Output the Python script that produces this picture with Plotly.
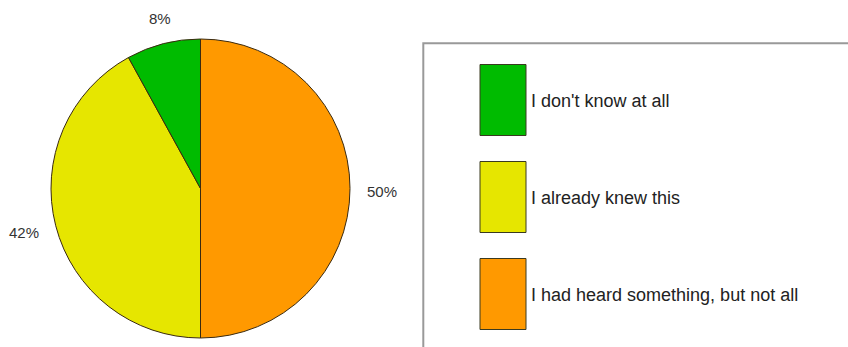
import math
import plotly.graph_objects as go

categories = ["I don't know at all", "I already knew this", "I had heard something, but not all"]
values = [8, 42, 50]
colors = ["#00BB00", "#E6E600", "#FF9900"]

W, H = 848, 347


def px(x):
    return x / W


def py(y):
    return 1 - y / H


# pie geometry (pixels)
CX, CY, R = 200.5, 188.5, 149.5

pie_labels = categories[::-1]
pie_values = values[::-1]
pie_colors = colors[::-1]

fig = go.Figure()
fig.add_trace(go.Pie(
    labels=pie_labels,
    values=pie_values,
    sort=False,
    direction="clockwise",
    rotation=0,
    marker=dict(colors=pie_colors, line=dict(color="#3a2a10", width=1)),
    textinfo="none",
    domain=dict(x=[px(CX - R), px(CX + R)], y=[py(CY + R), py(CY - R)]),
    showlegend=False,
    hoverinfo="label+percent",
))

annotations = []
label_font = dict(family="Liberation Sans, Arial, sans-serif", size=15, color="#333333")
total = sum(pie_values)
cum = 0
for v in pie_values:
    mid = (cum + v / 2) / total * 2 * math.pi
    cum += v
    s, c = math.sin(mid), math.cos(mid)
    d = R + 15
    x = CX + d * s
    y = CY - d * c
    xa = "left" if s > 0.3 else ("right" if s < -0.3 else "center")
    ya = "bottom" if c > 0.3 else ("top" if c < -0.3 else "middle")
    ysh = -3 if ya == "middle" else 0
    annotations.append(dict(xref="paper", yref="paper", x=px(x), y=py(y), xanchor=xa, yanchor=ya,
                            yshift=ysh, showarrow=False, text=f"{round(v / total * 100)}%",
                            font=label_font))

shapes = [dict(type="rect", xref="paper", yref="paper",
               x0=px(423.3), x1=px(880), y0=py(43.3), y1=py(420),
               line=dict(color="#999999", width=2), fillcolor="rgba(0,0,0,0)")]
sw_x0, sw_x1 = 480, 526
sw_tops = [64.5, 161.5, 258.5]
sw_h = 71
for cat, col, top in zip(categories, colors, sw_tops):
    shapes.append(dict(type="rect", xref="paper", yref="paper",
                       x0=px(sw_x0), x1=px(sw_x1), y0=py(top + sw_h), y1=py(top),
                       line=dict(color="#3a3a20", width=1), fillcolor=col))
    annotations.append(dict(xref="paper", yref="paper", x=px(529), y=py(top + sw_h / 2 + 1),
                            xanchor="left", yanchor="middle", showarrow=False, text=cat,
                            font=dict(family="Liberation Sans, Arial, sans-serif", size=18, color="#222222")))

fig.update_layout(
    width=W, height=H,
    margin=dict(l=0, r=0, t=0, b=0),
    paper_bgcolor="white", plot_bgcolor="white",
    shapes=shapes, annotations=annotations,
)

fig.write_html("out.html", config={"displayModeBar": False},
               post_script="document.body.style.margin='0';document.body.style.overflow='hidden';")
